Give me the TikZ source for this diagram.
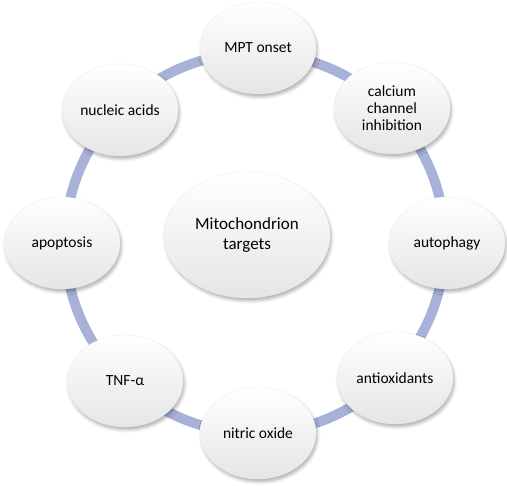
\documentclass[tikz,border=0pt]{standalone}
\usepackage{fontspec}
\setmainfont{Carlito}
\usetikzlibrary{shapes.geometric,shadows.blur}
\definecolor{ringblue}{RGB}{168,178,216}
\tikzset{
  bubble/.style={ellipse, minimum width=116pt, minimum height=92pt, inner sep=0pt,
    top color=white, middle color=white, bottom color=black!10, draw=black!8, line width=0.3pt,
    blur shadow={shadow xshift=1.5pt, shadow yshift=-3pt, shadow blur radius=3pt, shadow opacity=30},
    align=center, font=\fontsize{15.5}{17}\selectfont, text=black},
  hub/.style={bubble, minimum width=166pt, minimum height=126pt, font=\fontsize{17}{20}\selectfont}
}
\begin{document}
\begin{tikzpicture}[x=1pt,y=1pt]
\useasboundingbox (0,0) rectangle (507,486);
\coordinate (ring) at (255,243);
\draw[ringblue, line width=10pt] (ring) circle[radius=190];
\node[bubble] (mpt) at (258,438) {MPT onset};
\node[bubble] (calc) at (392,378) {calcium\\channel\\inhibition};
\node[bubble] (auto) at (447,243) {autophagy};
\node[bubble] (anti) at (395,108) {antioxidants};
\node[bubble] (no) at (258,53) {nitric oxide};
\node[bubble] (tnf) at (125,105) {TNF-α};
\node[bubble] (apo) at (62,243) {apoptosis};
\node[bubble] (nuc) at (120,376) {nucleic acids};
\node[hub] (hub) at (247,251) {Mitochondrion\\targets};
\end{tikzpicture}
\end{document}
